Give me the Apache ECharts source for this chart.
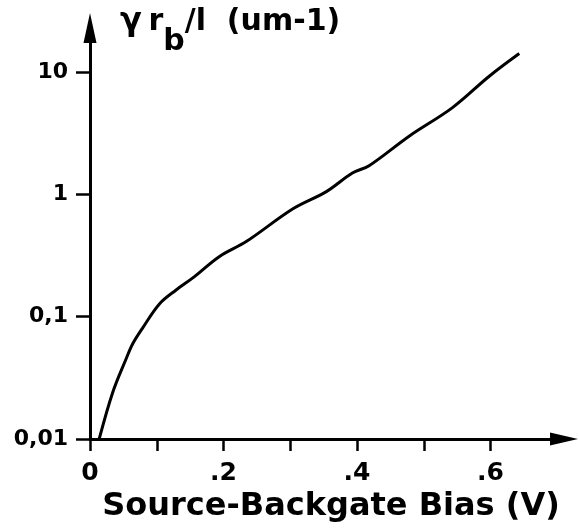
<!DOCTYPE html>
<html>
<head>
<meta charset="utf-8">
<script src="https://cdn.jsdelivr.net/npm/echarts@6/dist/echarts.min.js"></script>
<style>
  html, body { margin: 0; padding: 0; background: #fff; }
  #chart { width: 579px; height: 528px; }
</style>
</head>
<body>
<div id="chart"></div>
<script>
// bias (V) and gamma*rb/l (um-1)
const biasVolts = [0.014, 0.034, 0.054, 0.064, 0.079, 0.104, 0.129, 0.154, 0.194, 0.234, 0.304, 0.354, 0.393, 0.418, 0.478, 0.543, 0.598, 0.643];
const gammaValues = [0.0101, 0.024, 0.045, 0.060, 0.081, 0.127, 0.165, 0.207, 0.31, 0.41, 0.76, 1.05, 1.49, 1.71, 2.98, 5.1, 9.2, 14.1];

const xTickValues = [0, 0.1, 0.2, 0.3, 0.4, 0.5, 0.6];
const xLabelValues = [0, 0.2, 0.4, 0.6];
const yTickValues = [0.01, 0.1, 1, 10];
const yTickLabels = ["0,01", "0,1", "1", "10"];

const FONT = "DejaVu Sans";

const chart = echarts.init(document.getElementById("chart"));

function formatVolts(v) {
  if (v === 0) {
    return "0";
  }
  return "." + Math.round(v * 10);
}

function formatGamma(v) {
  const idx = Math.round(Math.log10(v)) + 2;
  return yTickLabels[idx] || "";
}

chart.setOption({
  backgroundColor: "#fff",
  animation: false,
  grid: {
    left: 90,
    right: 15,
    top: 28,
    bottom: 88,
  },
  xAxis: {
    type: "value",
    min: 0,
    max: 0.71,
    interval: 0.1,
    name: "Source-Backgate Bias (V)",
    nameLocation: "middle",
    nameGap: 52,
    nameTextStyle: {
      color: "#000",
      fontFamily: FONT,
      fontWeight: "bold",
      fontSize: 32,
      padding: [0, 0, 0, 8],
    },
    axisLine: {
      lineStyle: { color: "#000", width: 3 },
      symbol: ["none", "triangle"],
      symbolSize: [13, 28],
    },
    axisTick: {
      customValues: xTickValues,
      length: 12,
      lineStyle: { color: "#000", width: 2.5 },
    },
    axisLabel: {
      customValues: xLabelValues,
      formatter: formatVolts,
      margin: 22,
      color: "#000",
      fontFamily: FONT,
      fontWeight: "bold",
      fontSize: 25,
    },
    splitLine: { show: false },
  },
  yAxis: {
    type: "log",
    logBase: 10,
    min: 0.01,
    max: 22.8,
    name: "{g|γ}  {t|r}{s|b}{t|/l  (um-1)}",
    nameLocation: "end",
    nameGap: 6,
    nameTextStyle: {
      align: "left",
      verticalAlign: "middle",
      padding: [0, 0, 0, 30],
      rich: {
        g: { fontFamily: FONT, fontSize: 32, color: "#000", fontWeight: "bold", lineHeight: 30 },
        t: { fontFamily: FONT, fontSize: 30, color: "#000", fontWeight: "bold", lineHeight: 30 },
        s: { fontFamily: FONT, fontSize: 30, color: "#000", fontWeight: "bold", padding: [40, 0, 0, 0] },
      },
    },
    axisLine: {
      lineStyle: { color: "#000", width: 3 },
      symbol: ["none", "triangle"],
      symbolSize: [13, 30],
    },
    axisTick: {
      customValues: yTickValues,
      length: 14,
      lineStyle: { color: "#000", width: 2.5 },
    },
    axisLabel: {
      customValues: yTickValues,
      formatter: formatGamma,
      margin: 22,
      color: "#000",
      fontFamily: FONT,
      fontWeight: "bold",
      fontSize: 22,
    },
    minorTick: { show: false },
    splitLine: { show: false },
  },
  series: [
    {
      type: "line",
      data: biasVolts.map((v, i) => [v, gammaValues[i]]),
      smooth: 0.35,
      symbol: "none",
      lineStyle: { color: "#000", width: 3 },
    },
  ],
});
</script>
</body>
</html>
